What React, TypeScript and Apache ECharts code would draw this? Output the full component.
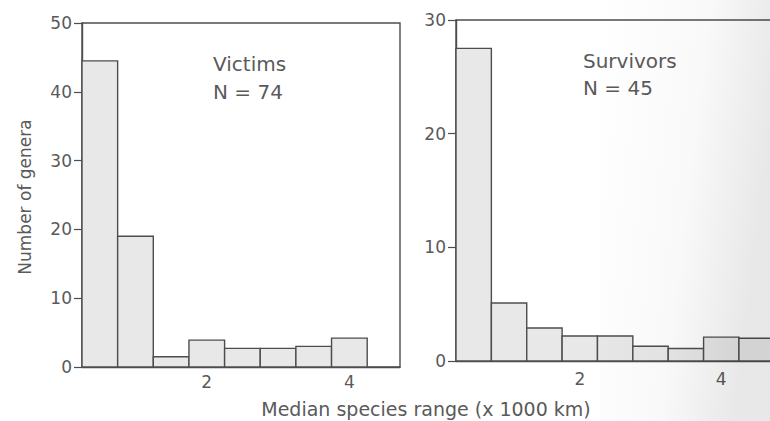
import React, { useEffect, useRef } from "react";
import * as echarts from "echarts";

const victimBinCenters = [0.5, 1.0, 1.5, 2.0, 2.5, 3.0, 3.5, 4.0];
const victimCounts = [44.5, 19, 1.5, 3.9, 2.7, 2.7, 3.0, 4.2];
const survivorBinCenters = [0.5, 1.0, 1.5, 2.0, 2.5, 3.0, 3.5, 4.0, 4.5];
const survivorCounts = [27.5, 5.1, 2.9, 2.2, 2.2, 1.3, 1.1, 2.1, 2.0];
const xTickLabels = [2, 4];
const binWidth = 0.5;

const LINE = "#4d4d4d";
const TEXT = "#5a5a5a";
const FILL = "#e8e8e8";
const FONT = "DejaVu Sans";

function barRenderer(params: any, api: any) {
  const x = api.value(0);
  const y = api.value(1);
  const p0 = api.coord([x - binWidth / 2, 0]);
  const p1 = api.coord([x + binWidth / 2, y]);
  return {
    type: "rect",
    shape: { x: p0[0], y: p1[1], width: p1[0] - p0[0], height: p0[1] - p1[1] },
    style: { fill: FILL, stroke: LINE, lineWidth: 1.4 },
  };
}

export default function App() {
  const ref = useRef<HTMLDivElement>(null);
  useEffect(() => {
    if (!ref.current) return;
    const chart = echarts.init(ref.current, undefined, { renderer: "svg" });
    const yAxisCommon = {
      type: "value" as const,
      min: 0,
      interval: 10,
      splitLine: { show: false },
      axisLine: { show: true, lineStyle: { color: LINE, width: 1.4 } },
      axisTick: { show: true, length: 8, lineStyle: { color: LINE, width: 1.2 } },
      axisLabel: { color: TEXT, fontFamily: FONT, fontSize: 17, margin: 10 },
    };
    const xAxisCommon = (max: number, margin: number) => ({
      type: "value" as const,
      min: 0.25,
      max,
      splitLine: { show: false },
      axisLine: { show: true, onZero: false, lineStyle: { color: LINE, width: 1.4 } },
      axisTick: { show: false },
      axisLabel: {
        color: TEXT,
        fontFamily: FONT,
        fontSize: 17,
        margin,
        customValues: xTickLabels,
      },
    });
    chart.setOption({
      animation: false,
      backgroundColor: "#ffffff",
      grid: [
        { left: 82, top: 23, right: 400, bottom: 54, show: true, borderColor: LINE, borderWidth: 1.4 },
        { left: 456, top: 20, right: 8, bottom: 60, show: true, borderColor: LINE, borderWidth: 1.4 },
      ],
      xAxis: [
        { ...xAxisCommon(4.71, 6), gridIndex: 0 },
        { ...xAxisCommon(5.0, 9), gridIndex: 1 },
      ],
      yAxis: [
        { ...yAxisCommon, max: 50, gridIndex: 0 },
        { ...yAxisCommon, max: 30, gridIndex: 1 },
      ],
      series: [
        {
          type: "custom",
          name: "Victims",
          xAxisIndex: 0,
          yAxisIndex: 0,
          renderItem: barRenderer,
          encode: { x: 0, y: 1 },
          data: victimBinCenters.map((c, i) => [c, victimCounts[i]]),
        },
        {
          type: "custom",
          name: "Survivors",
          xAxisIndex: 1,
          yAxisIndex: 1,
          renderItem: barRenderer,
          encode: { x: 0, y: 1 },
          data: survivorBinCenters.map((c, i) => [c, survivorCounts[i]]),
        },
      ],
      graphic: [
        {
          type: "text",
          left: 213,
          top: 54,
          style: { text: "Victims", fill: TEXT, font: `20px '${FONT}'` },
        },
        {
          type: "text",
          left: 213,
          top: 82,
          style: { text: "N = 74", fill: TEXT, font: `20px '${FONT}'` },
        },
        {
          type: "text",
          left: 583,
          top: 51,
          style: { text: "Survivors", fill: TEXT, font: `20px '${FONT}'` },
        },
        {
          type: "text",
          left: 583,
          top: 78,
          style: { text: "N = 45", fill: TEXT, font: `20px '${FONT}'` },
        },
        {
          type: "text",
          x: 25,
          y: 197,
          rotation: Math.PI / 2,
          style: {
            text: "Number of genera",
            fill: TEXT,
            font: `17px '${FONT}'`,
            align: "center",
            verticalAlign: "middle",
          },
        },
        {
          type: "text",
          x: 426,
          y: 409,
          style: {
            text: "Median species range (x 1000 km)",
            fill: TEXT,
            font: `19px '${FONT}'`,
            align: "center",
            verticalAlign: "middle",
          },
        },
        {
          type: "rect",
          silent: true,
          z: 100,
          shape: { x: 600, y: 0, width: 170, height: 421 },
          style: {
            fill: new echarts.graphic.LinearGradient(0, 0, 1, 0.3, [
              { offset: 0, color: "rgba(0,0,0,0)" },
              { offset: 0.6, color: "rgba(0,0,0,0.025)" },
              { offset: 1, color: "rgba(0,0,0,0.09)" },
            ]),
          },
        },
      ],
    });
    return () => chart.dispose();
  }, []);
  return (
    <div
      style={{
        position: "fixed",
        left: 0,
        top: 0,
        width: 770,
        height: 421,
        overflow: "hidden",
        background: "#fff",
      }}
    >
      <div ref={ref} style={{ width: 800, height: 421 }} />
    </div>
  );
}
